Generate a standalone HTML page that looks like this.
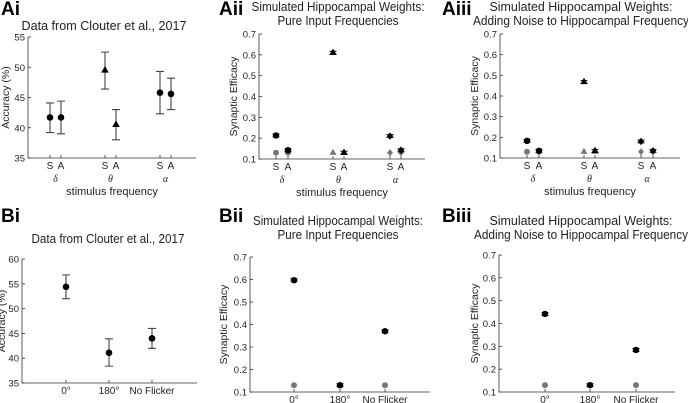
<!DOCTYPE html>
<html><head><meta charset="utf-8"><style>
html,body{margin:0;padding:0;background:#fff;}
svg{display:block;font-family:"Liberation Sans",sans-serif;}
</style></head><body>
<svg id="fig" width="688" height="403" viewBox="0 0 688 403" xmlns="http://www.w3.org/2000/svg"></svg>
<script>
// ---- data ----
const freqCats = ["S","A","S","A","S","A"];
const greekLabels = ["δ","θ","α"];
const phaseCats = ["0°","180°","No Flicker"];
const accTicks = [35,40,45,50,55];
const accTicksB = [35,40,45,50,55,60];
const effTicks = [0.1,0.2,0.3,0.4,0.5,0.6,0.7];

const aiMean = [41.7,41.7,49.5,40.5,45.8,45.6];
const aiLow  = [39.2,39.0,46.4,38.0,42.3,43.0];
const aiHigh = [44.1,44.4,52.5,43.0,49.3,48.2];
const aiShape = ["c","c","t","t","c","c"];

const aiiBlack = [0.213,0.142,0.61,0.13,0.21,0.142];
const aiiGray  = [0.13,0.13,0.13,0.13,0.13,0.13];
const aiiiBlack = [0.183,0.135,0.468,0.135,0.18,0.135];
const aiiiGray  = [0.13,0.13,0.13,0.13,0.13,0.13];

const biMean = [54.4,41.1,44.0];
const biLow  = [52.0,38.4,42.0];
const biHigh = [56.8,43.9,46.0];

const biiBlack = [0.597,0.13,0.37];
const biiGray  = [0.13,null,0.13];
const biiiBlack = [0.442,0.13,0.284];
const biiiGray  = [0.13,null,0.13];

const svg = document.getElementById('fig');
const NS = "http://www.w3.org/2000/svg";
function mk(tag, attrs, parent){ const e=document.createElementNS(NS,tag); for(const k in attrs) e.setAttribute(k,attrs[k]); (parent||svg).appendChild(e); return e; }
function txt(s, x, y, size, extra, parent){ const t=mk('text',Object.assign({x:x,y:y,'font-size':size,fill:'#222'},extra||{}),parent); t.textContent=s; return t; }

function panel(cfg){
  const g = mk('g',{});
  
  
  const ysv = v => cfg.y0 - (v-cfg.vmin)/(cfg.vmax-cfg.vmin)*(cfg.y0-cfg.y1);
  const lab = txt(cfg.label, cfg.lx, cfg.ly, 19, {'font-weight':'bold',fill:'#000'}, g);
  
  
  cfg.title.forEach((s,i)=>{ const t=txt(s,cfg.tx,cfg.ty+i*14,12.5,{'text-anchor':'middle',textLength:cfg.tw[i],lengthAdjust:'spacingAndGlyphs'},g);
      });
  const ax = mk('path',{d:`M${cfg.xl},${cfg.y1} V${cfg.y0} H${cfg.xr}`,stroke:'#333','stroke-width':0.8,fill:'none'},g);
   
  cfg.ticks.forEach(v=>{
    const y=ysv(v);
    mk('line',{x1:cfg.xl,x2:cfg.xl+3,y1:y,y2:y,stroke:'#333','stroke-width':0.8},g);
    const t=txt(String(v),cfg.xl-3,y+3.5,9.5,{'text-anchor':'end'},g);
     
  });
  const yt = txt(cfg.ylabel, 0,0,10.5,{'text-anchor':'middle',transform:`translate(${cfg.ytx},${(cfg.y0+cfg.y1)/2}) rotate(-90)`},g);
   
  cfg.xs.forEach((x,i)=>{
    mk('line',{x1:x,x2:x,y1:cfg.y0,y2:cfg.y0-3,stroke:'#333','stroke-width':0.8},g);
    const t=txt(cfg.cats[i],x,cfg.y0+11,10,{'text-anchor':'middle'},g);
     
  });
  if(cfg.greek){
    cfg.greek.forEach((s,i)=>{ const x=(cfg.xs[2*i]+cfg.xs[2*i+1])/2;
      const t=txt(s,x,cfg.y0+24,10,{'text-anchor':'middle','font-family':'Liberation Serif, serif','font-style':'italic'},g);
        });
    const xt=txt('stimulus frequency',(cfg.xl+cfg.xr)/2,cfg.y0+37,11,{'text-anchor':'middle'},g);
     
  }
  function marker(x,y,shape,color,r){
    let m;
    if(shape==='t') m=mk('path',{d:`M${x},${y-r-1} L${x+r+0.5},${y+r*0.7} L${x-r-0.5},${y+r*0.7} Z`,fill:color},g);
    else if(shape==='d') m=mk('path',{d:`M${x},${y-r-0.5} L${x+r},${y} L${x},${y+r+0.5} L${x-r},${y} Z`,fill:color},g);
    else m=mk('circle',{cx:x,cy:y,r:r,fill:color},g);
    return m;
  }
  if(cfg.mean){
    cfg.mean.forEach((v,i)=>{
      const x=cfg.xs[i], yl=ysv(cfg.low[i]), yh=ysv(cfg.high[i]);
      const eb=mk('path',{d:`M${x},${yl} V${yh} M${x-4},${yl} H${x+4} M${x-4},${yh} H${x+4}`,stroke:'#444','stroke-width':1.1,fill:'none'},g);
       
      const m=marker(x,ysv(v),cfg.shape?cfg.shape[i]:'c','#000',3.3);
       
    });
  }
  if(cfg.gray){
    cfg.gray.forEach((v,i)=>{ if(v==null) return;
      const m=marker(cfg.xs[i],ysv(v),cfg.shape?cfg.shape[i]:'c','#777',3);
        });
    cfg.black.forEach((v,i)=>{ if(v==null) return;
      const x=cfg.xs[i], y=ysv(v);
      mk('path',{d:`M${x-3.5},${y-1.5} H${x+3.5} M${x-3.5},${y+1.5} H${x+3.5}`,stroke:'#000','stroke-width':0.9},g);
      const m=marker(x,y,cfg.shape?cfg.shape[i]:'c','#000',3.2);
        });
  }
}

panel({name:'panel-ai',label:'Ai',lx:1,ly:15,title:['Data from Clouter et al., 2017'],tw:[165],tx:104,ty:30,
  xl:28,xr:196,y0:158,y1:37,vmin:35,vmax:55,ticks:accTicks,ylabel:'Accuracy (%)',ytx:9,
  xs:[50,61,105,116,160,171],cats:freqCats,greek:greekLabels,mean:aiMean,low:aiLow,high:aiHigh,shape:aiShape});
panel({name:'panel-aii',label:'Aii',lx:219,ly:15,title:['Simulated Hippocampal Weights:','Pure Input Frequencies'],tw:[173,121],tx:338,ty:11,
  xl:259,xr:425,y0:159,y1:34,vmin:0.1,vmax:0.7,ticks:effTicks,ylabel:'Synaptic Efficacy',ytx:237,
  xs:[276,288,333,344,390,401],cats:freqCats,greek:greekLabels,black:aiiBlack,gray:aiiGray,shape:['c','c','t','t','d','d']});
panel({name:'panel-aiii',label:'Aiii',lx:442,ly:15,title:['Simulated Hippocampal Weights:','Adding Noise to Hippocampal Frequency'],tw:[183,216],tx:581,ty:11,
  xl:500,xr:680,y0:158,y1:34,vmin:0.1,vmax:0.7,ticks:effTicks,ylabel:'Synaptic Efficacy',ytx:478,
  xs:[527,539,584,595,641,653],cats:freqCats,greek:greekLabels,black:aiiiBlack,gray:aiiiGray,shape:['c','c','t','t','d','d']});
panel({name:'panel-bi',label:'Bi',lx:1,ly:222,title:['Data from Clouter et al., 2017'],tw:[153],tx:108,ty:243,
  xl:22,xr:197,y0:383,y1:259,vmin:35,vmax:60,ticks:accTicksB,ylabel:'Accuracy (%)',ytx:5,
  xs:[66,109,152],cats:phaseCats,mean:biMean,low:biLow,high:biHigh});
panel({name:'panel-bii',label:'Bii',lx:219,ly:222,title:['Simulated Hippocampal Weights:','Pure Input Frequencies'],tw:[170,121],tx:338,ty:225,
  xl:250,xr:430,y0:392,y1:257,vmin:0.1,vmax:0.7,ticks:effTicks,ylabel:'Synaptic Efficacy',ytx:227,
  xs:[294,340,385],cats:phaseCats,black:biiBlack,gray:biiGray});
panel({name:'panel-biii',label:'Biii',lx:442,ly:222,title:['Simulated Hippocampal Weights:','Adding Noise to Hippocampal Frequency'],tw:[183,214],tx:581,ty:225,
  xl:499,xr:675,y0:392,y1:255,vmin:0.1,vmax:0.7,ticks:effTicks,ylabel:'Synaptic Efficacy',ytx:478,
  xs:[545,590,636],cats:phaseCats,black:biiiBlack,gray:biiiGray});
</script>
</body></html>
